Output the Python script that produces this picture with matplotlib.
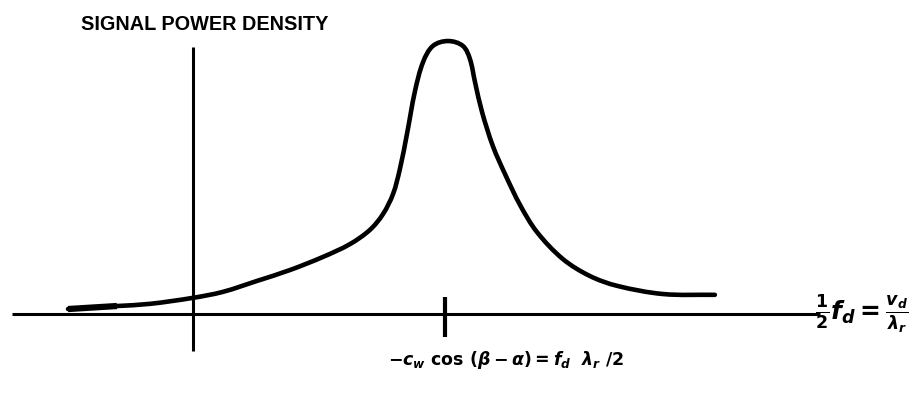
import numpy as np
import matplotlib
matplotlib.use('Agg')
import matplotlib.pyplot as plt
from matplotlib.path import Path
from matplotlib.patches import PathPatch

# signal power density vs. doppler frequency (peak normalised to 1)
freq = [-0.496, -0.302, -0.171, 0.0, 0.119, 0.254, 0.385, 0.516, 0.623,
        0.702, 0.754, 0.794, 0.821, 0.849, 0.881, 0.913, 0.952, 1.012,
        1.071, 1.099, 1.119, 1.147, 1.190, 1.238, 1.298, 1.365, 1.468,
        1.575, 1.683, 1.865, 2.071]
power = [0.018, 0.029, 0.037, 0.059, 0.081, 0.121, 0.161, 0.209, 0.256,
         0.308, 0.366, 0.440, 0.531, 0.659, 0.817, 0.923, 0.982, 1.0,
         0.982, 0.934, 0.850, 0.740, 0.615, 0.513, 0.399, 0.300, 0.201,
         0.139, 0.103, 0.073, 0.070]

peak_freq = 1.0
x_axis_span = [-0.718, 2.488]
y_axis_span = [-0.136, 0.978]
peak_mark_span = [-0.084, 0.062]

plt.rcParams['mathtext.fontset'] = 'custom'
plt.rcParams['mathtext.rm'] = 'DejaVu Sans:bold'
plt.rcParams['mathtext.it'] = 'DejaVu Sans:italic:bold'
plt.rcParams['mathtext.bf'] = 'DejaVu Sans:bold'


def smooth_path(xs, ys, aspect=273 / 252):
    # smooth bezier through the points, tangents from neighbours,
    # handle length from the chord so uneven spacing does not overshoot
    pts = np.column_stack([xs, np.asarray(ys) * aspect])
    n = len(pts)
    dirs = []
    for i in range(n):
        d = pts[min(i + 1, n - 1)] - pts[max(i - 1, 0)]
        dirs.append(d / np.hypot(*d))
    verts = [pts[0]]
    codes = [Path.MOVETO]
    for i in range(n - 1):
        chord = np.hypot(*(pts[i + 1] - pts[i])) / 3
        verts += [pts[i] + dirs[i] * chord, pts[i + 1] - dirs[i + 1] * chord,
                  pts[i + 1]]
        codes += [Path.CURVE4] * 3
    verts = np.array(verts)
    verts[:, 1] /= aspect
    return Path(verts, codes)


fig = plt.figure(figsize=(9.22, 4.02), dpi=100)
ax = fig.add_axes([0, 0, 1, 1])
ax.set_xlim(-0.766, 2.893)
ax.set_ylim(-0.319, 1.154)
ax.axis('off')

# axes of the sketch
ax.plot(x_axis_span, [0, 0], color='black', lw=2.2, solid_capstyle='butt')
ax.plot([0, 0], y_axis_span, color='black', lw=2.2, solid_capstyle='butt')
ax.plot([peak_freq, peak_freq], peak_mark_span, color='black', lw=3,
        solid_capstyle='butt')

# spectrum
ax.add_patch(PathPatch(smooth_path(freq, power), facecolor='none',
                       edgecolor='black', lw=3.3, capstyle='round'))
ax.plot(freq[:2], power[:2], color='black', lw=4.5, solid_capstyle='butt')

ax.text(81 / 922, 1 - 24 / 402, 'SIGNAL POWER DENSITY', transform=ax.transAxes,
        ha='left', va='center', fontsize=14.3, fontweight='bold',
        family='Liberation Sans')

ax.text(388 / 922, 1 - 360 / 402,
        r'$-c_w\ \cos\,(\beta - \alpha) = f_d\ \ \lambda_r\ /2$',
        transform=ax.transAxes, ha='left', va='center', fontsize=12.5)

ax.text(815 / 922, 1 - 314 / 402, r'$\frac{1}{2}f_d = \frac{v_d}{\lambda_r}$',
        transform=ax.transAxes, ha='left', va='center', fontsize=18)

fig.savefig('out.png', dpi=100)
